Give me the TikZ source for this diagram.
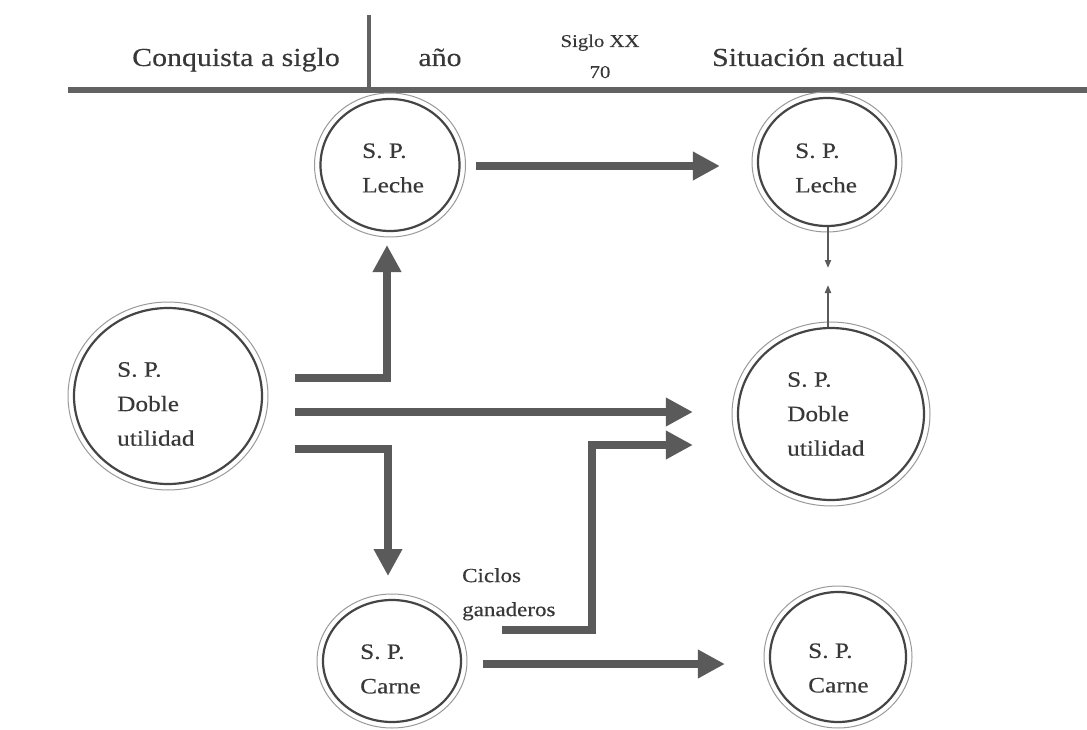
\documentclass[tikz,border=0pt]{standalone}
\usepackage{fontspec}
\setmainfont{Liberation Serif}[FakeStretch=1.15,FakeBold=0.3]
\usetikzlibrary{arrows.meta,shapes.geometric}
\definecolor{ink}{HTML}{383838}
\definecolor{arrowgray}{HTML}{5A5A5A}
\definecolor{rimdark}{HTML}{454545}
\definecolor{rimlight}{HTML}{9A9A9A}
\definecolor{rulegray}{HTML}{626262}
\begin{document}
\begin{tikzpicture}[x=1pt,y=-1pt,
  spnode/.style={ellipse,draw=rimdark,line width=2.2pt,inner sep=0pt},
  outerrim/.style={draw=rimlight,line width=1pt},
  sptext/.style={anchor=west,align=left,inner sep=0pt,text=ink,font=\fontsize{22}{34.5}\selectfont},
  head/.style={text=ink,inner sep=0pt,anchor=base,font=\fontsize{26}{30}\selectfont},
  smallhead/.style={text=ink,inner sep=0pt,anchor=base,font=\fontsize{18}{22}\selectfont},
  note/.style={text=ink,inner sep=0pt,anchor=north west,align=left,font=\fontsize{20}{34}\selectfont},
  flow/.style={draw=arrowgray,line width=8pt,-{Triangle[length=27pt,width=27pt]}},
  tinyarrow/.style={draw=arrowgray,line width=1.8pt,-{Triangle[length=8pt,width=6pt]}},
  rule/.style={draw=rulegray,line width=6pt}]
\useasboundingbox (0,0) rectangle (1087,730);
\fill[white] (0,0) rectangle (1087,730);

% header
\coordinate (hl) at (68,90);
\coordinate (hr) at (1087,90);
\draw[rule] (hl) -- (hr);
\coordinate (vt) at (369,15);
\draw[rule,line width=4pt] (vt) -- (vt |- hl);
\node[head] (h1) at (236,66) {Conquista a siglo};
\node[head] (h2) at (440,66) {año};
\node[smallhead] (h3) at (600,47) {Siglo XX};
\node[smallhead] (h4) at (600,78) {70};
\node[head] (h5) at (808,66) {Situación actual};

% circles
\node[spnode,minimum width=139pt,minimum height=132pt] (lL) at (390,165) {};
\draw[outerrim] (lL.center) ellipse [x radius=75.5pt, y radius=72pt];
\node[spnode,minimum width=138pt,minimum height=128pt] (rL) at (827,162) {};
\draw[outerrim] (rL.center) ellipse [x radius=75pt, y radius=70pt];
\node[spnode,minimum width=188pt,minimum height=176pt] (lD) at (168,396) {};
\draw[outerrim] (lD.center) ellipse [x radius=100pt, y radius=94pt];
\node[spnode,minimum width=186pt,minimum height=172pt] (rD) at (831,414) {};
\draw[outerrim] (rD.center) ellipse [x radius=99pt, y radius=92pt];
\node[spnode,minimum width=138pt,minimum height=122pt] (lC) at (392,661) {};
\draw[outerrim] (lC.center) ellipse [x radius=75pt, y radius=67pt];
\node[spnode,minimum width=136pt,minimum height=130pt] (rC) at (838,657) {};
\draw[outerrim] (rC.center) ellipse [x radius=74pt, y radius=71pt];

% circle texts
\node[sptext] (lLt) at (362,168) {S. P.\\Leche};
\node[sptext] (rLt) at (795,168) {S. P.\\Leche};
\node[sptext] (lDt) at (117,404) {S. P.\\Doble\\utilidad};
\node[sptext] (rDt) at (787,414) {S. P.\\Doble\\utilidad};
\node[sptext] (lCt) at (360,669) {S. P.\\Carne};
\node[sptext] (rCt) at (808,668) {S. P.\\Carne};

\node[note] (cg) at (462,568) {Ciclos\\ganaderos};

% connectors
\coordinate (a1) at (476,166);
\draw[flow,shorten >=37pt] (a1) -- (a1 -| rL.west);

\coordinate (t1) at (295,378);
\coordinate (t2) at (387,245);
\draw[flow] (t1) -| (t2);

\coordinate (m1) at (295,412);
\draw[flow,shorten >=44pt] (m1) -- (m1 -| rD.west);

\coordinate (b1) at (295,449);
\coordinate (b2) at (388,576);
\draw[flow] (b1) -| (b2);

\coordinate (c1) at (502,630);
\coordinate (c2) at (592,445);
\draw[flow,shorten >=44pt] (c1) -| (c2) -- (c2 -| rD.west);

\coordinate (k1) at (483,664);
\draw[flow,shorten >=44pt] (k1) -- (k1 -| rC.west);

\coordinate (s1) at (828,268);
\draw[tinyarrow] (s1 |- rL.south) -- (s1);
\coordinate (s2) at (828,285);
\draw[tinyarrow] (s2 |- rD.north) -- (s2);
\end{tikzpicture}
\end{document}
